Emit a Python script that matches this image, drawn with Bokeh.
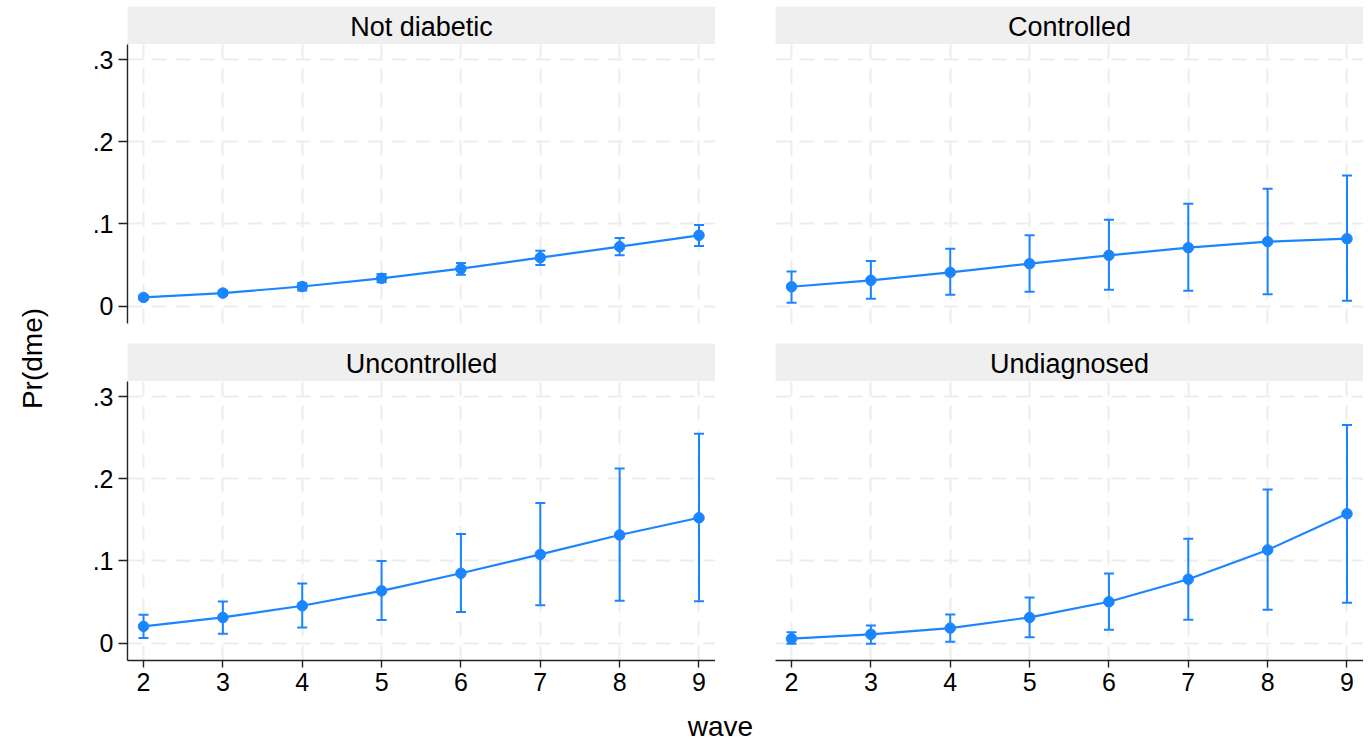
import math
from bokeh.plotting import figure
from bokeh.models import (ColumnDataSource, Whisker, TeeHead, FixedTicker, Grid,
                          LinearAxis)
from bokeh.layouts import row, column
from bokeh.core.properties import value
from bokeh.embed import file_html
from bokeh.resources import INLINE

# ---------------- data ----------------
waves = [2, 3, 4, 5, 6, 7, 8, 9]
panel_titles = ["Not diabetic", "Controlled", "Uncontrolled", "Undiagnosed"]

notdiab = [0.0105, 0.0158, 0.0238, 0.0338, 0.0455, 0.0590, 0.0724, 0.0862]
notdiab_lo = [0.0080, 0.0130, 0.0190, 0.0290, 0.0382, 0.0500, 0.0620, 0.0732]
notdiab_hi = [0.0130, 0.0190, 0.0280, 0.0390, 0.0524, 0.0674, 0.0830, 0.0988]

controlled = [0.0235, 0.0313, 0.0410, 0.0516, 0.0618, 0.0711, 0.0785, 0.0821]
controlled_lo = [0.0040, 0.0089, 0.0138, 0.0175, 0.0199, 0.0187, 0.0143, 0.0065]
controlled_hi = [0.0420, 0.0550, 0.0699, 0.0862, 0.1052, 0.1248, 0.1430, 0.1590]

uncontrolled = [0.0203, 0.0312, 0.0454, 0.0636, 0.0850, 0.1080, 0.1317, 0.1527]
uncontrolled_lo = [0.0060, 0.0114, 0.0190, 0.0280, 0.0377, 0.0462, 0.0515, 0.0510]
uncontrolled_hi = [0.0345, 0.0506, 0.0725, 0.1001, 0.1330, 0.1706, 0.2126, 0.2552]

undiagnosed = [0.0053, 0.0106, 0.0182, 0.0312, 0.0503, 0.0778, 0.1135, 0.1576]
undiagnosed_lo = [-0.0010, -0.0008, 0.0017, 0.0069, 0.0163, 0.0284, 0.0405, 0.0490]
undiagnosed_hi = [0.0130, 0.0215, 0.0349, 0.0555, 0.0847, 0.1272, 0.1871, 0.2657]

y_ticks = [0, 0.1, 0.2, 0.3]
y_tick_labels = ["0", ".1", ".2", ".3"]
x_label = "wave"
y_label = "Pr(dme)"

# ---------------- style ----------------
BLUE = "#1a85ff"
FONT = "Liberation Sans"
GRID_COLOR = "#ededed"
HEADER_BG = "#efefef"
FRAME_W = 588
FRAME_H = 279
X_RANGE = (1.798, 9.208)
Y_RANGE = (-0.0213, 0.3188)
TICK_FS = "25px"


def header(title, left_border, frame_h, top_border):
    f = figure(width=left_border + FRAME_W, height=frame_h + top_border,
               x_range=(0, 1), y_range=(0, frame_h),
               min_border_left=left_border, min_border_right=0,
               min_border_top=top_border, min_border_bottom=0,
               x_axis_location=None, y_axis_location=None,
               toolbar_location=None, output_backend="svg",
               background_fill_color=HEADER_BG, border_fill_color="white")
    f.outline_line_color = None
    f.grid.grid_line_color = None
    f.text(x=[0.5], y=[18], text=[title], text_align="center", text_baseline="middle",
           text_font=value(FONT), text_font_size="27px", text_color="black")
    return f


def style_axis(ax, tick_out):
    ax.axis_line_color = "#222222"
    ax.axis_line_width = 1.4
    ax.major_tick_line_color = "#222222"
    ax.major_tick_line_width = 1.4
    ax.major_tick_out = tick_out
    ax.major_tick_in = 0
    ax.minor_tick_line_color = None
    ax.major_label_text_font = FONT
    ax.major_label_text_font_size = TICK_FS
    ax.major_label_text_color = "black"
    ax.major_label_standoff = 5


def panel(yv, lo, hi, left_border, bottom_border, show_y, show_x):
    f = figure(width=left_border + FRAME_W, height=FRAME_H + bottom_border,
               x_range=X_RANGE, y_range=Y_RANGE,
               min_border_left=left_border, min_border_right=0, min_border_top=0,
               min_border_bottom=bottom_border,
               x_axis_location=None, y_axis_location=None,
               toolbar_location=None, output_backend="svg",
               background_fill_color="white", border_fill_color="white")
    f.outline_line_color = None
    f.grid.grid_line_color = None

    f.add_layout(Grid(dimension=0, ticker=FixedTicker(ticks=waves),
                      grid_line_color=GRID_COLOR, grid_line_width=2,
                      grid_line_dash="15 9"))
    f.add_layout(Grid(dimension=1, ticker=FixedTicker(ticks=y_ticks),
                      grid_line_color=GRID_COLOR, grid_line_width=2,
                      grid_line_dash="15 9"))

    if show_y:
        ax = LinearAxis(ticker=FixedTicker(ticks=y_ticks),
                        major_label_overrides={t: l for t, l in zip(y_ticks, y_tick_labels)})
        style_axis(ax, 9)
        f.add_layout(ax, "left")
    if show_x:
        ax = LinearAxis(ticker=FixedTicker(ticks=waves))
        style_axis(ax, 7)
        f.add_layout(ax, "below")

    src = ColumnDataSource(dict(x=waves, y=yv, lo=lo, hi=hi))
    f.add_layout(Whisker(source=src, base="x", upper="hi", lower="lo",
                         line_color=BLUE, line_width=2,
                         upper_head=TeeHead(size=10, line_color=BLUE, line_width=2),
                         lower_head=TeeHead(size=10, line_color=BLUE, line_width=2)))
    f.line("x", "y", source=src, line_color=BLUE, line_width=2.2)
    f.scatter("x", "y", source=src, size=10.5, fill_color=BLUE, line_color=BLUE)
    return f


LEFT_W = 78
h1 = header(panel_titles[0], 49, 38, 6)
h2 = header(panel_titles[1], 60, 38, 6)
p1 = panel(notdiab, notdiab_lo, notdiab_hi, 49, 20, True, False)
p2 = panel(controlled, controlled_lo, controlled_hi, 60, 20, False, False)
h3 = header(panel_titles[2], 49, 38, 0)
h4 = header(panel_titles[3], 60, 38, 0)
p3 = panel(uncontrolled, uncontrolled_lo, uncontrolled_hi, 49, 42, True, True)
p4 = panel(undiagnosed, undiagnosed_lo, undiagnosed_hi, 60, 42, False, True)

main_w = 49 + FRAME_W + 60 + FRAME_W
WAVE_H = 42
wf = figure(width=main_w, height=WAVE_H, x_range=(0, main_w), y_range=(0, WAVE_H),
            min_border=0, x_axis_location=None, y_axis_location=None,
            toolbar_location=None, output_backend="svg")
wf.outline_line_color = None
wf.grid.grid_line_color = None
wf.text(x=[642], y=[WAVE_H - 24], text=[x_label], text_align="center", text_baseline="middle",
        text_font=value(FONT), text_font_size="28px", text_color="black")

total_h = 44 + (FRAME_H + 20) + 38 + (FRAME_H + 42) + WAVE_H
yf = figure(width=LEFT_W, height=total_h, x_range=(0, LEFT_W), y_range=(0, total_h),
            min_border=0, x_axis_location=None, y_axis_location=None,
            toolbar_location=None, output_backend="svg")
yf.outline_line_color = None
yf.grid.grid_line_color = None
yf.text(x=[32], y=[total_h - 358], text=[y_label], angle=math.pi / 2,
        text_align="center", text_baseline="middle",
        text_font=value(FONT), text_font_size="28px", text_color="black")

layout = row(yf, column(row(h1, h2), row(p1, p2), row(h3, h4), row(p3, p4), wf))

open("out.html", "w").write(file_html(layout, INLINE))
